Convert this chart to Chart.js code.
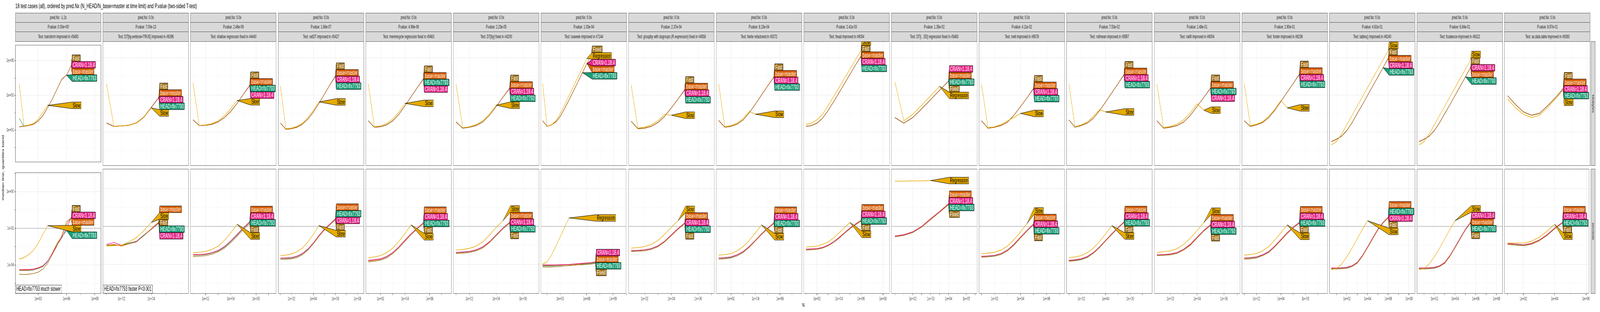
<!DOCTYPE html>
<html>
<head>
<meta charset="utf-8">
<script src="https://cdn.jsdelivr.net/npm/chart.js@4.4.1/dist/chart.umd.min.js"></script>
<style>
body { margin: 0; background: #fff; overflow: hidden; }
#page { width: 7200px; height: 800px; position: relative; transform-origin: 0 0; background: #fff;
        font-family: 'Liberation Sans Narrow', 'Liberation Sans', sans-serif; }
.strip { position: absolute; background: #d9d9d9; border: 1px solid #4d4d4d; box-sizing: border-box;
         font-size: 12px; color: #1a1a1a; text-align: center; white-space: nowrap; overflow: hidden; }
.rstrip { position: absolute; background: #d9d9d9; border: 1px solid #4d4d4d; box-sizing: border-box; }
.rstrip span { position: absolute; left: 50%; top: 50%; transform: translate(-50%,-50%) rotate(90deg); font-size: 12px; color: #1a1a1a; white-space: nowrap; }
canvas { position: absolute; }
#title { position: absolute; left: 69px; top: 6px; font-size: 17px; color: #000; white-space: nowrap; }
#ytitle { position: absolute; left: 12px; top: 430px; transform: translate(-50%,-50%) rotate(-90deg); font-family: 'Liberation Sans', sans-serif; font-size: 14px; white-space: nowrap; }
#xtitle { position: absolute; left: 3610px; top: 774px; font-family: 'Liberation Sans', sans-serif; font-size: 14px; }
</style>
</head>
<body>
<div id="page">
<div id="title">18 test cases (all), ordered by pred.Nx (N_HEAD/N_base=master at time limit) and P.value (two-sided T-test)</div>
<div id="ytitle">median line, quartiles band</div>
<div id="xtitle">N</div>
</div>
<script>
// facet strips
const predNx = ['-1.2x','0.0x','0.0x','0.0x','0.0x','0.0x','0.0x','0.0x','0.0x','0.0x','0.0x','0.0x','0.0x','0.0x','0.0x','0.0x','0.0x','0.0x'];
const pValues = ['0.00e+00','7.00e-13','2.46e-09','1.66e-07','4.99e-06','2.23e-05','1.03e-04','2.37e-04','8.15e-04','2.41e-03','1.35e-02',
                 '4.11e-02','7.53e-02','1.48e-01','2.90e-01','4.62e-01','6.84e-01','8.97e-01'];
const testNames = ['transform improved in #5493','DT[by,verbose=TRUE] improved in #6296','shallow regression fixed in #4440',
  'setDT improved in #5427','memrecycle regression fixed in #5463','DT[by] fixed in #4200','isoweek improved in #7144',
  'groupby with dogroups (R expression) fixed in #4558','fwrite refactored in #5372','fread improved in #6054',
  'DT[i, .SD] regression fixed in #5463','melt improved in #6578','rollmean improved in #5957','nafill improved in #6004',
  'forder improved in #6236','tables() improved in #6240','fcoalesce improved in #6322','as.data.table improved in #6393'];
const rowNames = ['kilobytes', 'seconds'];
const seriesNames = ['HEAD=fix7793', 'base=master', 'CRAN=1.18.4', 'Fast', 'Slow'];
const altNames = ['HEAD=fix7793', 'base=master', 'CRAN=1.18.4', 'Fixed', 'Regression'];
const seriesColors = ['#1b9e77', '#d95f02', '#e7298a', '#a6761d', '#e6ab02'];
const cornerNotes = ['HEAD=fix7793 much slower', 'HEAD=fix7793 faster P<0.001'];

// x axis limits (log10) and labelled breaks (log10) per facet
const xLimExp = [[0.59,9.66],[0.76,6.5],[0.8,7.6],[0.8,8.6],[0.8,7.8],[0.8,7.2],[0.8,10.5],[0.8,7.2],[0.8,7.8],[0.8,8.6],
                 [0.8,5.6],[0.8,7.4],[0.8,7.8],[0.8,7.2],[0.8,7.8],[0.3,8.6],[0.3,8.6],[0.8,6.2]];
const xBreakExp = [[3,6,9],[2,4],[2,4,6],[2,4,6,8],[2,4,6],[2,4,6],[3,6,9],[2,4,6],[2,4,6],[2,4,6,8],
                   [2,3,4,5],[2,4,6],[2,4,6],[2,4,6],[2,4,6],[2,4,6,8],[2,4,6,8],[2,4,6]];
const yLimExp = [[-0.83,5.9],[-5.57,1.05]];
const yBreakExp = [[1,3,5],[-4,-2,0]];
const timeLimit = 0.01;

const panelN = [
  [10,31.6,100,316,1e3,3162,1e4,31623,1e5,316228,1e6,3162278],
  [10,31.6,100,316,1e3,3162,1e4,31623],
  [10,31.6,100,316,1e3,3162,1e4,31623,1e5,316228],
  [10,31.6,100,316,1e3,3162,1e4,31623,1e5,316228,1e6],
  [10,31.6,100,316,1e3,3162,1e4,31623,1e5,316228],
  [10,31.6,100,316,1e3,3162,1e4,31623,1e5],
  [10,31.6,100,316,1e3,3162,1e4,31623,1e5,316228,1e6,3162278,1e7],
  [10,31.6,100,316,1e3,3162,1e4,31623,1e5],
  [10,31.6,100,316,1e3,3162,1e4,31623,1e5,316228],
  [10,31.6,100,316,1e3,3162,1e4,31623,1e5,316228,1e6],
  [10,31.6,100,316,1e3,3162,1e4],
  [10,31.6,100,316,1e3,3162,1e4,31623,1e5],
  [10,31.6,100,316,1e3,3162,1e4,31623,1e5,316228],
  [10,31.6,100,316,1e3,3162,1e4,31623,1e5],
  [10,31.6,100,316,1e3,3162,1e4,31623,1e5,316228],
  [3.16,10,31.6,100,316,1e3,3162,1e4,31623,1e5,316228,1e6],
  [3.16,10,31.6,100,316,1e3,3162,1e4,31623,1e5,316228,1e6],
  [10,31.6,100,316,1e3,3162,1e4,31623]
];

// kilobytes row
const kbHead = [
  [48,17,19,22,34,70,200,620,2300,8400,14800],
  [30,20,21,23,30,62,210,700],
  [45,22,23,26,35,60,130,350,1100,3200],
  [30,14,15,18,26,50,120,350,1100,3500,10000],
  [40,18,19,24,40,90,260,800,2500,7000],
  [35,16,18,22,35,80,240,750,2200],
  [40,20,24,35,70,190,560,1700,5200,16000],
  [38,15,16,20,32,70,200,600,1800],
  [42,18,20,26,45,110,320,1000,3100,9000],
  [20,22,30,55,140,420,1300,4100,13000,41000,120000],
  [60,30,60,180,560,1800,5600],
  [40,16,18,22,34,80,230,700,2100],
  [45,18,22,30,55,140,420,1300,4000,12000],
  [40,16,18,22,34,80,240,740,2300],
  [40,20,24,32,60,150,450,1400,4200,12500],
  [3,4,6,12,32,100,300,950,3000,9500,30000],
  [3,4,6,12,32,100,300,950,3000,9500],
  [900,300,120,80,100,250,700,2100]
];
const kbBase = [
  [16,17,19,22,34,70,200,620,2300,8400,14800,50000],
  [30,20,21,23,31,63,215,720],
  [45,22,23,26,35,60,130,350,1100,3300],
  [30,14,15,18,26,50,120,350,1100,3500,10500],
  [40,18,19,24,40,90,260,800,2500,7200],
  [35,16,18,22,35,80,240,760,2300],
  [40,20,24,35,70,190,560,1700,5200,16000,50000],
  [38,15,16,20,32,70,200,600,1900],
  [42,18,20,26,45,110,320,1000,3100,9300],
  [20,22,30,55,140,420,1300,4100,13000,41000,125000],
  [60,30,60,180,560,1800,5600],
  [40,16,18,22,34,80,230,700,2200],
  [45,18,22,30,55,140,420,1300,4000,12500],
  [40,16,18,22,34,80,240,740,2300],
  [40,20,24,32,60,150,450,1400,4200,13000],
  [3,4,6,12,32,100,300,950,3000,9500,30000,95000],
  [3,4,6,12,32,100,300,950,3000,9500,30000],
  [900,300,120,80,100,250,700,2200]
];
const kbCran = [
  [16,17,19,22,34,70,200,620,2300,8400,14800,50000],
  [30,20,21,23,31,63,215,710],
  [45,22,23,26,35,60,130,350,1100,3100],
  [30,14,15,18,26,50,120,350,1100,3500,10200],
  [40,18,19,24,40,90,260,800,2500,6900],
  [35,16,18,22,35,80,240,750,2250],
  [40,20,24,35,70,190,560,1700,5200,16000,50000],
  [38,15,16,20,32,70,200,600,1850],
  [42,18,20,26,45,110,320,1000,3100,9100],
  [20,22,30,55,140,420,1300,4100,13000,41000,122000],
  [60,30,60,180,560,1800,5700],
  [40,16,18,22,34,80,230,700,2150],
  [45,18,22,30,55,140,420,1300,4000,12200],
  [40,16,18,22,34,80,240,740,2250],
  [40,20,24,32,60,150,450,1400,4200,12800],
  [3,4,6,12,32,100,300,950,3000,9500,30000,92000],
  [3,4,6,12,32,100,300,950,3000,9500,31000],
  [900,300,120,80,100,250,700,2150]
];
const kbFast = [
  [16,17,19,22,34,70,200,620,2300,8400,14800,50000],
  [30,20,21,23,31,64,220,740],
  [45,22,23,26,35,60,130,350,1100,3400],
  [30,14,15,18,26,50,120,350,1100,3500,11000],
  [40,18,19,24,40,90,260,800,2500,7500],
  [35,16,18,22,35,80,240,760,2400],
  [40,20,24,35,70,190,560,1700,5200,16000,50000,150000],
  [38,15,16,20,32,70,200,600,2000],
  [42,18,20,26,45,110,320,1000,3100,9500],
  [20,22,30,55,140,420,1300,4100,13000,41000,128000],
  [60,30,60,180,560,1800,5500],
  [40,16,18,22,34,80,230,700,2300],
  [45,18,22,30,55,140,420,1300,4000,13000],
  [40,16,18,22,34,80,240,740,2400],
  [40,20,24,32,60,150,450,1400,4200,13500],
  [3,4,6,12,32,100,300,950,3000,9500,30000,100000],
  [3,4,6,12,32,100,300,950,3000,9500,32000],
  [900,300,120,80,100,250,700,2300]
];
const kbSlow = [
  [4800,18,20,24,43,105,270],
  [4000,20,21,23,30,60,200],
  [4500,22,24,28,40,75,180,500],
  [3000,15,16,20,30,60,150,420],
  [4200,19,21,28,50,120,350],
  [3800,17,19,25,40,95,280],
  [4000,20,24,40,100,300,950,3000,9500,30000,95000],
  [3500,16,18,24,40,90,80],
  [4100,19,22,30,55,130,90],
  [25,30,45,90,260,800,2500,8000,25000,80000,250000],
  [5000,40,90,280,900,2900],
  [3800,17,19,25,40,60,100],
  [4000,19,24,35,70,160,120],
  [3800,17,20,26,45,110,330,150],
  [4000,22,26,36,70,170,520,200],
  [2,3,8,25,80,250,800,2500,8000,25000,80000,250000],
  [2,3,8,25,80,250,800,2500,8000,25000,80000],
  [600,200,90,60,80,200,600,1800]
];

// seconds row
const secHead = [
  [5e-5,5e-5,5e-5,5.3e-5,6.4e-5,8.1e-5,1.5e-4,4.3e-4,1.4e-3,3.4e-3,7.5e-3],
  [1e-3,1.05e-3,1e-3,1.3e-3,1.6e-3,3.5e-3,7e-3,1.6e-2],
  [3e-4,3e-4,3.2e-4,3.8e-4,5e-4,8e-4,1.6e-3,3.5e-3,8e-3,1.6e-2],
  [2e-4,2e-4,2.1e-4,2.5e-4,3.5e-4,6e-4,1.3e-3,3.2e-3,7e-3,1.3e-2,2.5e-2],
  [1.5e-4,1.6e-4,1.8e-4,2.4e-4,4e-4,8e-4,1.8e-3,4e-3,8e-3,1.5e-2],
  [4e-4,4.2e-4,4.5e-4,5.5e-4,8e-4,1.5e-3,3.5e-3,8e-3,1.6e-2],
  [8e-5,8e-5,8e-5,8.2e-5,8.5e-5,9e-5,9e-5,9.5e-5,1e-4,1e-4,1.05e-4,1.1e-4,1.2e-4],
  [5e-4,5.2e-4,5.5e-4,6.5e-4,9e-4,1.6e-3,3.5e-3,7.5e-3,1.5e-2],
  [2e-4,2.1e-4,2.3e-4,3e-4,4.5e-4,8.5e-4,1.8e-3,4e-3,8e-3,1.5e-2],
  [6e-4,6.2e-4,6.5e-4,7.5e-4,1e-3,1.5e-3,2.5e-3,4.5e-3,8e-3,1.3e-2,2e-2],
  [3e-3,3.5e-3,5e-3,1e-2,2.5e-2,6e-2,0.15],
  [2.5e-4,2.6e-4,2.8e-4,3.5e-4,5.5e-4,1.1e-3,2.6e-3,6e-3,1.3e-2],
  [1.5e-4,1.6e-4,1.8e-4,2.4e-4,4e-4,8e-4,1.8e-3,4e-3,8.5e-3,1.7e-2],
  [3e-4,3.1e-4,3.3e-4,4e-4,6e-4,1.1e-3,2.6e-3,6e-3,1.2e-2],
  [2e-4,2.1e-4,2.3e-4,3e-4,4.5e-4,9e-4,2e-3,4.5e-3,9e-3,1.6e-2],
  [6e-5,6e-5,6.2e-5,6.5e-5,8e-5,1.2e-4,2.8e-4,8e-4,2.4e-3,7e-3,1.6e-2,3e-2],
  [6e-5,6e-5,6.2e-5,6.5e-5,8e-5,1.2e-4,2.8e-4,8e-4,2.4e-3,7e-3,1.6e-2],
  [1.2e-3,1.1e-3,1e-3,1.2e-3,1.8e-3,3.5e-3,8e-3,1.6e-2]
];
const secBase = [
  [5.2e-5,5.2e-5,5.2e-5,5.5e-5,6.6e-5,8.5e-5,1.6e-4,4.5e-4,1.5e-3,3.6e-3,1.6e-2,3.7e-2],
  [1e-3,1.1e-3,9e-4,1.2e-3,1.5e-3,3.3e-3,7.5e-3,1.7e-2],
  [3e-4,3.1e-4,3.3e-4,3.9e-4,5.2e-4,8.5e-4,1.7e-3,3.8e-3,8.5e-3,1.8e-2],
  [2e-4,2.1e-4,2.2e-4,2.6e-4,3.6e-4,6.2e-4,1.35e-3,3.3e-3,7.2e-3,1.35e-2,2.6e-2],
  [1.5e-4,1.6e-4,1.8e-4,2.5e-4,4.1e-4,8.2e-4,1.9e-3,4.1e-3,8.2e-3,1.55e-2],
  [4e-4,4.3e-4,4.6e-4,5.6e-4,8.2e-4,1.55e-3,3.6e-3,8.2e-3,1.65e-2],
  [8.5e-5,8.5e-5,8.5e-5,8.6e-5,8.8e-5,9e-5,9.2e-5,9.5e-5,1e-4,1.05e-4,1.1e-4,1.15e-4,1.25e-4],
  [5e-4,5.3e-4,5.6e-4,6.6e-4,9.2e-4,1.65e-3,3.6e-3,7.8e-3,1.55e-2],
  [2e-4,2.2e-4,2.4e-4,3.1e-4,4.6e-4,8.7e-4,1.85e-3,4.1e-3,8.2e-3,1.55e-2],
  [6e-4,6.3e-4,6.6e-4,7.6e-4,1e-3,1.5e-3,2.6e-3,4.6e-3,8.2e-3,1.35e-2,2.1e-2],
  [3e-3,3.6e-3,5.2e-3,1e-2,2.6e-2,6.2e-2,0.16],
  [2.5e-4,2.7e-4,2.9e-4,3.6e-4,5.6e-4,1.15e-3,2.7e-3,6.2e-3,1.35e-2],
  [1.5e-4,1.7e-4,1.9e-4,2.5e-4,4.1e-4,8.2e-4,1.85e-3,4.1e-3,8.7e-3,1.75e-2],
  [3e-4,3.2e-4,3.4e-4,4.1e-4,6.2e-4,1.15e-3,2.7e-3,6.2e-3,1.25e-2],
  [2e-4,2.2e-4,2.4e-4,3.1e-4,4.6e-4,9.2e-4,2.05e-3,4.6e-3,9.2e-3,1.65e-2],
  [6e-5,6.2e-5,6.4e-5,6.8e-5,8.2e-5,1.25e-4,2.9e-4,8.2e-4,2.5e-3,7.2e-3,1.65e-2,3.1e-2],
  [6e-5,6.2e-5,6.4e-5,6.8e-5,8.2e-5,1.25e-4,2.9e-4,8.2e-4,2.5e-3,7.2e-3,1.65e-2],
  [1.2e-3,1.15e-3,1.05e-3,1.25e-3,1.85e-3,3.6e-3,8.2e-3,1.65e-2]
];
const secCran = [
  [5.5e-5,5.6e-5,5.6e-5,6e-5,7e-5,9e-5,1.6e-4,4.2e-4,1.2e-3,3e-3,1e-2,3.7e-2],
  [1.1e-3,1.4e-3,1e-3,1.2e-3,1.6e-3,3.3e-3,7e-3,1.5e-2],
  [3.2e-4,3.2e-4,3.4e-4,4e-4,5.3e-4,8.6e-4,1.7e-3,3.7e-3,8.2e-3,1.7e-2],
  [2.1e-4,2.1e-4,2.2e-4,2.6e-4,3.7e-4,6.3e-4,1.3e-3,3.2e-3,7.1e-3,1.3e-2,2.4e-2],
  [1.6e-4,1.7e-4,1.9e-4,2.5e-4,4.1e-4,8.1e-4,1.8e-3,4e-3,8.1e-3,1.5e-2],
  [4.2e-4,4.4e-4,4.7e-4,5.7e-4,8.3e-4,1.5e-3,3.5e-3,8.1e-3,1.6e-2],
  [9e-5,9e-5,9e-5,9e-5,9.2e-5,9.5e-5,9.6e-5,1e-4,1.05e-4,1.1e-4,1.15e-4,1.2e-4,1.3e-4],
  [5.2e-4,5.4e-4,5.7e-4,6.7e-4,9.3e-4,1.6e-3,3.5e-3,7.6e-3,1.5e-2],
  [2.1e-4,2.2e-4,2.4e-4,3.1e-4,4.6e-4,8.6e-4,1.8e-3,4e-3,8.1e-3,1.5e-2],
  [6.2e-4,6.4e-4,6.7e-4,7.7e-4,1e-3,1.5e-3,2.5e-3,4.5e-3,8.1e-3,1.3e-2,2e-2],
  [3.1e-3,3.6e-3,5.1e-3,1e-2,2.5e-2,6.1e-2,0.15],
  [2.6e-4,2.7e-4,2.9e-4,3.6e-4,5.6e-4,1.1e-3,2.6e-3,6.1e-3,1.3e-2],
  [1.6e-4,1.7e-4,1.9e-4,2.5e-4,4.1e-4,8.1e-4,1.8e-3,4e-3,8.6e-3,1.7e-2],
  [3.1e-4,3.2e-4,3.4e-4,4.1e-4,6.1e-4,1.1e-3,2.6e-3,6.1e-3,1.2e-2],
  [2.1e-4,2.2e-4,2.4e-4,3.1e-4,4.6e-4,9.1e-4,2e-3,4.5e-3,9.1e-3,1.6e-2],
  [6.2e-5,6.2e-5,6.4e-5,6.7e-5,8.1e-5,1.2e-4,2.8e-4,8.1e-4,2.4e-3,7.1e-3,1.6e-2,2.9e-2],
  [6.2e-5,6.2e-5,6.4e-5,6.7e-5,8.1e-5,1.2e-4,2.8e-4,8.1e-4,2.4e-3,7.1e-3,1.7e-2],
  [1.25e-3,1.15e-3,1.05e-3,1.2e-3,1.8e-3,3.5e-3,8.1e-3,1.6e-2]
];
const secFast = [
  [3.1e-5,3e-5,3.1e-5,3.4e-5,4e-5,5.9e-5,1.2e-4,3.7e-4,1.1e-3,4e-3,2.3e-2,3.7e-2],
  [1e-3,1e-3,1e-3,1.2e-3,1.5e-3,3.2e-3,7.2e-3,1.6e-2],
  [2.5e-4,2.6e-4,2.8e-4,3.3e-4,4.5e-4,7e-4,1.4e-3,3e-3,7e-3,1.4e-2],
  [1.8e-4,1.8e-4,1.9e-4,2.2e-4,3.1e-4,5.5e-4,1.2e-3,2.9e-3,6.5e-3,1.2e-2,2.2e-2],
  [1.3e-4,1.4e-4,1.6e-4,2.1e-4,3.6e-4,7.2e-4,1.6e-3,3.6e-3,7.4e-3,1.4e-2],
  [3.6e-4,3.8e-4,4.1e-4,5e-4,7.2e-4,1.4e-3,3.2e-3,7.4e-3,1.5e-2],
  [7e-5,7e-5,7e-5,7.2e-5,7.5e-5,8e-5,8.2e-5,8.5e-5,9e-5,9.2e-5,9.5e-5,1e-4,1.1e-4],
  [4.6e-4,4.8e-4,5e-4,6e-4,8.3e-4,1.5e-3,3.2e-3,7e-3,1.4e-2],
  [1.8e-4,1.9e-4,2.1e-4,2.7e-4,4.1e-4,7.8e-4,1.7e-3,3.7e-3,7.5e-3,1.4e-2],
  [5.5e-4,5.7e-4,6e-4,7e-4,9.2e-4,1.4e-3,2.3e-3,4.2e-3,7.5e-3,1.2e-2,1.9e-2],
  [2.8e-3,3.3e-3,4.7e-3,9.2e-3,2.3e-2,5.6e-2,0.14],
  [2.3e-4,2.4e-4,2.6e-4,3.2e-4,5e-4,1e-3,2.4e-3,5.6e-3,1.2e-2],
  [1.4e-4,1.5e-4,1.7e-4,2.2e-4,3.7e-4,7.4e-4,1.7e-3,3.7e-3,7.9e-3,1.6e-2],
  [2.8e-4,2.9e-4,3.1e-4,3.7e-4,5.6e-4,1e-3,2.4e-3,5.6e-3,1.1e-2],
  [1.8e-4,1.9e-4,2.1e-4,2.8e-4,4.1e-4,8.3e-4,1.8e-3,4.1e-3,8.3e-3,1.5e-2],
  [5.5e-5,5.5e-5,5.7e-5,6e-5,7.4e-5,1.1e-4,2.6e-4,7.4e-4,2.2e-3,6.5e-3,1.5e-2,2.8e-2],
  [5.5e-5,5.5e-5,5.7e-5,6e-5,7.4e-5,1.1e-4,2.6e-4,7.4e-4,2.2e-3,6.5e-3,1.5e-2],
  [1.1e-3,1e-3,9.5e-4,1.1e-3,1.7e-3,3.2e-3,7.4e-3,1.5e-2]
];
const secSlow = [
  [2.1e-4,2.5e-4,3.7e-4,6.1e-4,1.5e-3,4.6e-3,1.4e-2],
  [9e-4,9.5e-4,1e-3,1.5e-3,2.5e-3,6e-3,1.6e-2],
  [4e-4,4.2e-4,4.6e-4,6e-4,9e-4,1.8e-3,4.5e-3,1.3e-2],
  [2.8e-4,3e-4,3.4e-4,4.5e-4,7e-4,1.5e-3,3.8e-3,1.1e-2],
  [2.2e-4,2.4e-4,2.8e-4,4e-4,7e-4,1.6e-3,4.2e-3,1.2e-2],
  [5.5e-4,6e-4,6.8e-4,9e-4,1.5e-3,3.5e-3,9e-3,2e-2],
  [1e-4,1.3e-4,3e-4,9e-4,2.8e-3,9e-3,2.8e-2],
  [7e-4,7.5e-4,8.5e-4,1.1e-3,1.8e-3,3.8e-3,9e-3,2e-2],
  [3e-4,3.2e-4,3.6e-4,5e-4,8.5e-4,1.8e-3,4.5e-3,1.2e-2],
  [8e-4,8.5e-4,9e-4,1.1e-3,1.5e-3,2.4e-3,4.5e-3,8.5e-3,1.6e-2],
  [2.5,2.5,2.6,2.6,2.7],
  [3.5e-4,3.8e-4,4.2e-4,5.5e-4,9e-4,2e-3,5e-3,1.4e-2],
  [2.2e-4,2.4e-4,2.8e-4,4e-4,7e-4,1.6e-3,4e-3,1.1e-2],
  [4.2e-4,4.5e-4,5e-4,6.5e-4,1.1e-3,2.4e-3,6e-3,1.6e-2],
  [3e-4,3.2e-4,3.6e-4,5e-4,8.5e-4,1.9e-3,4.6e-3,1.2e-2],
  [5e-5,6e-5,1e-4,2.5e-4,7e-4,2.2e-3,7e-3,2e-2],
  [5e-5,6e-5,1e-4,2.5e-4,7e-4,2.2e-3,7e-3,2e-2],
  [1.3e-3,1.3e-3,1.3e-3,1.6e-3,2.6e-3,5.5e-3,1.3e-2]
];
const altPanels = [6, 10];

// ---------- layout (drawn at 7200 wide, squeezed to the window width) ----------
const page = document.getElementById('page');
const SX = Math.min(1, window.innerWidth / 7200);
page.style.transform = `scaleX(${SX})`;

const PX0 = 69, PW = 386, PSTEP = 394.2;
const TOP = [106, 425], BOT = [433, 753];
const STRIP_Y = [33, 57, 81];
const AXIS_W = 69, XAXIS_H = 22;

function fmtExp(v) {
  const e = Math.round(Math.log10(v));
  return '1e' + (e < 0 ? '-' : '+') + String(Math.abs(e)).padStart(2, '0');
}
function breakTicks(lim, majors) {
  const step = majors.length > 1 ? majors[1] - majors[0] : 1;
  const out = [];
  for (let e = majors[0] - step; e <= majors[majors.length - 1] + step + 1e-9; e += step / 2) {
    if (e >= lim[0] && e <= lim[1]) out.push(e);
  }
  return out;
}

function addStrip(x, y, w, h, text) {
  const d = document.createElement('div');
  d.className = 'strip';
  d.style.cssText = `left:${x}px;top:${y}px;width:${w}px;height:${h + 1}px;line-height:${h - 1}px`;
  d.textContent = text;
  page.appendChild(d);
}

const panelDecor = {
  id: 'panelDecor',
  beforeDatasetsDraw(chart, args, opts) {
    const { ctx, chartArea: a, scales } = chart;
    if (opts.hline) {
      const y = scales.y.getPixelForValue(opts.hline);
      ctx.save();
      ctx.strokeStyle = '#c4c4c4'; ctx.lineWidth = 2;
      ctx.beginPath(); ctx.moveTo(a.left, y); ctx.lineTo(a.right, y); ctx.stroke();
      ctx.restore();
    }
  },
  afterDatasetsDraw(chart, args, opts) {
    const { ctx, chartArea: a } = chart;
    // direct labels at series ends
    const items = [];
    chart.data.datasets.forEach((ds, i) => {
      const meta = chart.getDatasetMeta(i);
      const p = meta.data[meta.data.length - 1];
      if (p) items.push({ x: p.x, y: p.y, ds });
    });
    const boxX = Math.max(...items.map(o => o.x)) + 4;
    const H = 17;
    items.sort((a, b) => a.y - b.y);
    items.forEach(o => o.ly = o.y);
    for (let it = 0; it < 50; it++) {
      for (let k = 1; k < items.length; k++) {
        const d = items[k].ly - items[k - 1].ly;
        if (d < H) { const s = (H - d) / 2; items[k].ly += s; items[k - 1].ly -= s; }
      }
    }
    ctx.save();
    ctx.font = "16px 'Liberation Sans Narrow', 'Liberation Sans', sans-serif";
    ctx.textBaseline = 'middle';
    ctx.lineWidth = 1; ctx.strokeStyle = '#000';
    items.forEach(o => {
      const w = ctx.measureText(o.ds.label).width + 6;
      const t = o.ly - H / 2, b = o.ly + H / 2;
      ctx.fillStyle = o.ds.borderColor;
      ctx.beginPath();
      ctx.moveTo(o.x, o.y); ctx.lineTo(boxX, t); ctx.lineTo(boxX + w, t); ctx.lineTo(boxX + w, b); ctx.lineTo(boxX, b);
      ctx.closePath(); ctx.fill(); ctx.stroke();
      ctx.fillStyle = o.ds.textDark ? '#000' : '#fff';
      ctx.fillText(o.ds.label, boxX + 3, o.ly + 1);
    });
    if (opts.note) {
      const w = ctx.measureText(opts.note).width + 8;
      ctx.fillStyle = '#fff'; ctx.strokeStyle = '#333';
      ctx.beginPath(); ctx.rect(a.left + 1, a.bottom - 22, w, 21); ctx.fill(); ctx.stroke();
      ctx.fillStyle = '#000'; ctx.fillText(opts.note, a.left + 5, a.bottom - 11);
    }
    ctx.strokeStyle = '#555'; ctx.lineWidth = 1;
    ctx.strokeRect(a.left + 0.5, a.top + 0.5, a.right - a.left - 1, a.bottom - a.top - 1);
    ctx.restore();
  }
};

function makePanel(p, row) {
  const first = p === 0;
  const rect = row === 0 ? TOP : BOT;
  const px = PX0 + p * PSTEP;
  const cv = document.createElement('canvas');
  const left = first ? px - AXIS_W : px;
  const width = first ? PW + AXIS_W : PW;
  const height = rect[1] - rect[0] + (row === 1 ? XAXIS_H : 0);
  cv.style.left = left + 'px'; cv.style.top = rect[0] + 'px';
  cv.style.width = width + 'px'; cv.style.height = height + 'px';
  page.appendChild(cv);

  const N = panelN[p];
  const sets = row === 0 ? [kbHead, kbBase, kbCran, kbFast, kbSlow] : [secHead, secBase, secCran, secFast, secSlow];
  const names = altPanels.includes(p) ? altNames : seriesNames;
  const datasets = sets.map((s, i) => ({
    label: names[i],
    data: s[p].map((v, k) => ({ x: N[k], y: v })),
    borderColor: seriesColors[i],
    backgroundColor: seriesColors[i],
    borderWidth: 1.6, pointRadius: 0, tension: 0,
    textDark: i === 4
  })).reverse();

  const xl = xLimExp[p], xb = xBreakExp[p];
  const yl = yLimExp[row], yb = yBreakExp[row];
  const xt = breakTicks(xl, xb), yt = breakTicks(yl, yb);
  const tickFont = { family: "'Liberation Sans Narrow', 'Liberation Sans', sans-serif", size: 12 };
  const isMajor = (v, br) => br.some(e => Math.abs(Math.log10(v) - e) < 1e-6);

  new Chart(cv, {
    type: 'line',
    data: { datasets },
    options: {
      responsive: false, animation: false, devicePixelRatio: 1,
      layout: { padding: 0 },
      plugins: {
        legend: { display: false }, tooltip: { enabled: false },
        panelDecor: { hline: row === 1 ? timeLimit : null, note: row === 1 ? cornerNotes[p] : null }
      },
      scales: {
        x: {
          type: 'logarithmic', min: Math.pow(10, xl[0]), max: Math.pow(10, xl[1]),
          afterBuildTicks: ax => { ax.ticks = xt.map(e => ({ value: Math.pow(10, e) })); },
          afterFit: ax => { ax.height = row === 1 ? XAXIS_H : 0; },
          grid: { color: c => isMajor(c.tick.value, xb) ? '#ebebeb' : '#f4f4f4',
                  lineWidth: c => isMajor(c.tick.value, xb) ? 1.2 : 0.8,
                  drawTicks: row === 1, tickLength: 4, tickColor: '#333' },
          border: { display: false },
          ticks: {
            display: row === 1, autoSkip: false, maxRotation: 0, color: '#4d4d4d', font: tickFont, padding: 2,
            callback: v => isMajor(v, xb) ? fmtExp(v) : ''
          }
        },
        y: {
          type: 'logarithmic', min: Math.pow(10, yl[0]), max: Math.pow(10, yl[1]),
          afterBuildTicks: ax => { ax.ticks = yt.map(e => ({ value: Math.pow(10, e) })); },
          afterFit: ax => { ax.width = first ? AXIS_W : 0; },
          grid: { color: c => isMajor(c.tick.value, yb) ? '#ebebeb' : '#f4f4f4',
                  lineWidth: c => isMajor(c.tick.value, yb) ? 1.2 : 0.8,
                  drawTicks: first, tickLength: 4, tickColor: '#333' },
          border: { display: false },
          ticks: {
            display: first, autoSkip: false, color: '#4d4d4d', font: tickFont, padding: 2,
            callback: v => isMajor(v, yb) ? fmtExp(v) : ''
          }
        }
      }
    },
    plugins: [panelDecor]
  });
}

for (let p = 0; p < 18; p++) {
  const px = PX0 + p * PSTEP;
  addStrip(px, STRIP_Y[0], PW, 24, 'pred.Nx: ' + predNx[p]);
  addStrip(px, STRIP_Y[1], PW, 24, 'P.value: ' + pValues[p]);
  addStrip(px, STRIP_Y[2], PW, 25, 'Test: ' + testNames[p]);
  makePanel(p, 0);
  makePanel(p, 1);
}
// row strips on the right
[TOP, BOT].forEach((r, i) => {
  const d = document.createElement('div');
  d.className = 'rstrip';
  d.style.cssText = `left:${PX0 + 17 * PSTEP + PW + 3}px;top:${r[0]}px;width:20px;height:${r[1] - r[0]}px`;
  d.innerHTML = `<span>${rowNames[i]}</span>`;
  page.appendChild(d);
});
</script>
</body>
</html>
